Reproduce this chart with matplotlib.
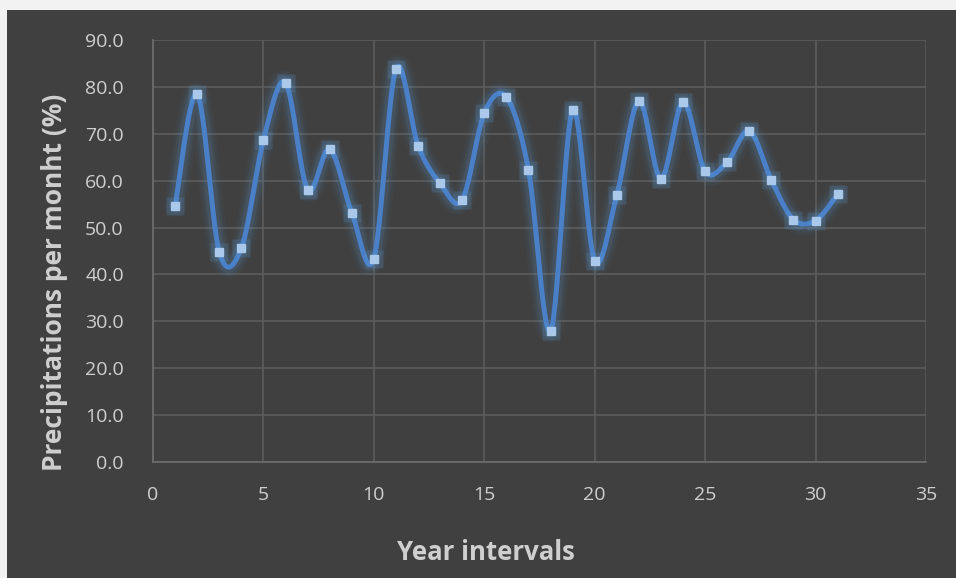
import numpy as np
import matplotlib
matplotlib.use("Agg")
import matplotlib.pyplot as plt
from matplotlib.patches import Rectangle

intervals = list(range(1, 32))
precip = [54.6, 78.5, 44.8, 45.6, 68.7, 80.9, 58.1, 66.7, 53.2, 43.4,
          83.8, 67.5, 59.4, 55.9, 74.4, 77.8, 62.3, 27.9, 75.1, 42.9,
          56.9, 77.0, 60.4, 76.8, 62.0, 64.0, 70.6, 60.1, 51.7, 51.5, 57.1]
x_ticks = [0, 5, 10, 15, 20, 25, 30, 35]
y_ticks = [0, 10, 20, 30, 40, 50, 60, 70, 80, 90]


def smooth(xs, ys, n=30):
    # Catmull-Rom style Bezier smoothing like Excel "smoothed line"
    xs = np.asarray(xs, float)
    ys = np.asarray(ys, float)
    px = np.concatenate([[xs[0]], xs, [xs[-1]]])
    py = np.concatenate([[ys[0]], ys, [ys[-1]]])
    outx, outy = [], []
    t = np.linspace(0, 1, n)
    for i in range(1, len(px) - 2):
        p0 = np.array([px[i], py[i]])
        p3 = np.array([px[i + 1], py[i + 1]])
        c1 = p0 + (np.array([px[i + 1], py[i + 1]]) - np.array([px[i - 1], py[i - 1]])) / 6
        c2 = p3 - (np.array([px[i + 2], py[i + 2]]) - np.array([px[i], py[i]])) / 6
        b = ((1 - t) ** 3)[:, None] * p0 + (3 * (1 - t) ** 2 * t)[:, None] * c1 \
            + (3 * (1 - t) * t ** 2)[:, None] * c2 + (t ** 3)[:, None] * p3
        outx.extend(b[:, 0])
        outy.extend(b[:, 1])
    return np.array(outx), np.array(outy)


bg = "#404040"
txt = "#cfcfcf"
fig = plt.figure(figsize=(9.56, 5.78), dpi=100)
fig.patch.set_facecolor("#f2f2f2")
bgax = fig.add_axes([7 / 956, 0, 1 - 7 / 956, 1 - 10 / 578], zorder=-10)
bgax.set_facecolor(bg)
bgax.set_axis_off()
bgax.add_patch(Rectangle((0, 0), 1, 1, transform=bgax.transAxes, facecolor=bg, edgecolor="none"))

ax = fig.add_axes([153 / 956, 116 / 578, 773 / 956, 422 / 578], zorder=1)
ax.set_facecolor(bg)
ax.set_xlim(0, 35)
ax.set_ylim(0, 90)
ax.set_xticks(x_ticks)
ax.set_yticks(y_ticks)
ax.set_yticklabels([f"{v:.1f}" for v in y_ticks])
ax.grid(True, color="#5c5c5c", linewidth=1.2)
ax.set_axisbelow(True)
for s in ["top", "right"]:
    ax.spines[s].set_visible(False)
for s in ["left", "bottom"]:
    ax.spines[s].set_color("#6e6e6e")
    ax.spines[s].set_linewidth(1.2)
ax.tick_params(length=0, colors=txt, labelsize=14)
ax.tick_params(axis="y", pad=21)
ax.tick_params(axis="x", pad=17)
for lab in ax.get_xticklabels() + ax.get_yticklabels():
    lab.set_fontfamily("Open Sans")
    lab.set_color(txt)

sx, sy = smooth(intervals, precip)
for w, a in [(16, 0.05), (12, 0.07), (8.5, 0.12)]:
    ax.plot(sx, sy, color="#5b9bd5", linewidth=w, alpha=a, solid_capstyle="round", zorder=2)
ax.plot(sx, sy, color="#4a80c8", linewidth=3.6, solid_capstyle="round", zorder=3)
ax.plot(intervals, precip, linestyle="none", marker="s", markersize=13,
        markerfacecolor="#5b9bd5", markeredgecolor="none", alpha=0.2, zorder=3.5)
ax.plot(intervals, precip, linestyle="none", marker="s", markersize=6,
        markerfacecolor="#a9c8ea", markeredgecolor="#a9c8ea", zorder=4)

fig.text(55 / 956, 1 - 282 / 578, "Precipitations per monht (%)", rotation=90,
         ha="center", va="center", fontsize=19, fontweight="bold", color=txt,
         family="Open Sans")
fig.text(486 / 956, 1 - 552 / 578, "Year intervals", ha="center", va="center",
         fontsize=18.5, fontweight="bold", color=txt, family="Open Sans")

fig.savefig("out.png", dpi=100, facecolor=fig.get_facecolor())
